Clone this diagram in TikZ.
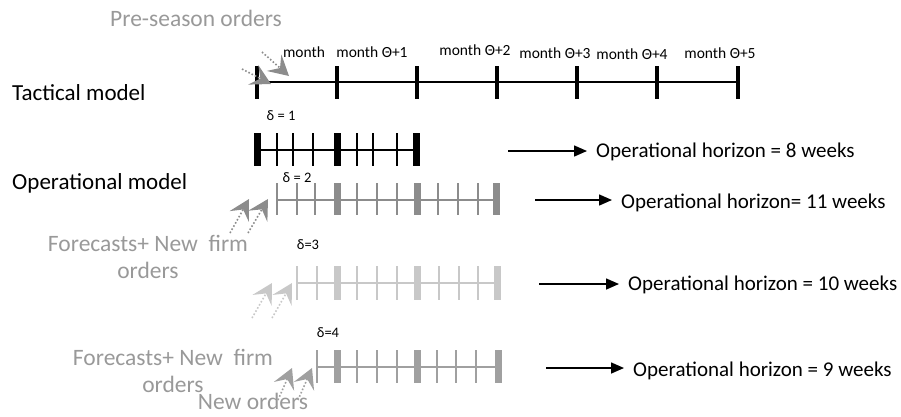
\documentclass[tikz,border=0pt]{standalone}
\usepackage{fontspec}
\setmainfont{Carlito}
\usetikzlibrary{arrows.meta}
\definecolor{ordergray}{HTML}{999999}
\definecolor{rowtwo}{HTML}{8C8C8C}
\definecolor{rowthree}{HTML}{C8C8C8}
\definecolor{rowfour}{HTML}{A0A0A0}
\tikzset{
  rowlabel/.style={anchor=west, inner sep=0pt, font=\fontsize{23}{25}\selectfont},
  graylabel/.style={inner sep=0pt, text=ordergray, align=center, font=\fontsize{23.5}{27}\selectfont},
  monthlabel/.style={inner sep=0pt, font=\fontsize{15.5}{17}\selectfont},
  deltalabel/.style={inner sep=0pt, font=\fontsize{14.5}{16}\selectfont},
  horizonlabel/.style={anchor=west, inner sep=0pt, font=\fontsize{21}{23}\selectfont},
  horizonarrow/.style={line width=1.5pt, -{Triangle[length=13pt,width=11pt]}, shorten >=9pt},
  orderarrow/.style={line width=1.6pt, dotted, -{Stealth[length=20pt,width=22pt,inset=8pt,sep=0pt]}},
}
% draws one operational timeline: colour, y, first x, last x, thin ticks, thick ticks, tick top, tick bottom
\newcommand{\opline}[8]{%
  \draw[#1, line width=2pt] (#3,#2) -- (#4,#2);
  \foreach \tx in {#5} \draw[#1, line width=1.8pt] (\tx,#7) -- (\tx,#8);
  \foreach \tx in {#6} \draw[#1, line width=7pt] (\tx,#7) -- (\tx,#8);
}
\begin{document}
\begin{tikzpicture}[x=1pt, y=-1pt]
\useasboundingbox (0,0) rectangle (901,416);

% left-hand labels
\node[graylabel] (pre) at (196,18) {Pre-season orders};
\node[rowlabel] (tact) at (12,93) {Tactical model};
\node[rowlabel] (oper) at (12,183) {Operational model};
\node[graylabel] (fc1) at (148,257) {Forecasts+ New\ \ firm\\orders};
\node[graylabel] (fc2) at (173,371) {Forecasts+ New\ \ firm\\orders};
\node[graylabel] (neword) at (253,401) {New orders};

% tactical timeline
\draw[line width=2.5pt] (257,82) -- (738,82);
\foreach \tx in {257,337,417,497,577,657,738}
  \draw[line width=4pt] (\tx,66) -- (\tx,99);
\node[monthlabel] (m0) at (304,52) {month};
\node[monthlabel] (m1) at (372,52) {month Θ+1};
\node[monthlabel] (m2) at (475,50) {month Θ+2};
\node[monthlabel] (m3) at (555,53) {month Θ+3};
\node[monthlabel] (m4) at (632,54) {month Θ+4};
\node[monthlabel] (m5) at (720,53) {month Θ+5};

% operational timelines
\opline{black}{150}{257}{416}{277,293,313,357,373,397}{257,337,416}{133}{166}
\opline{rowtwo}{200}{277}{496}{277,297,315,357,377,397,438,458,478}{337,417,496}{183}{215}
\opline{rowthree}{283}{297}{497}{297,317,357,377,397,439,459,478}{337,417,497}{266}{300}
\opline{rowfour}{367}{317}{498}{317,357,377,397,437,456,476}{337,417,498}{350}{383}

\node[deltalabel] (d1) at (281,116) {δ = 1};
\node[deltalabel] (d2) at (297,178) {δ = 2};
\node[deltalabel] (d3) at (308,245) {δ=3};
\node[deltalabel] (d4) at (328,333) {δ=4};

% order arrows
\coordinate (ta1) at (262,52);  \coordinate (tb1) at (289,76);
\coordinate (ta2) at (242,69);  \coordinate (tb2) at (271,84);
\draw[orderarrow, rowtwo] (ta1) -- (tb1);
\draw[orderarrow, rowtwo] (ta2) -- (tb2);

\coordinate (oa1) at (230,233); \coordinate (ob1) at (249,199);
\coordinate (oa2) at (248,233); \coordinate (ob2) at (268,199);
\draw[orderarrow, rowtwo] (oa1) -- (ob1);
\draw[orderarrow, rowtwo] (oa2) -- (ob2);

\coordinate (pa1) at (252,318); \coordinate (pb1) at (272,283);
\coordinate (pa2) at (272,318); \coordinate (pb2) at (292,283);
\draw[orderarrow, rowthree] (pa1) -- (pb1);
\draw[orderarrow, rowthree] (pa2) -- (pb2);

\coordinate (qa1) at (278,400); \coordinate (qb1) at (292,368);
\coordinate (qa2) at (298,400); \coordinate (qb2) at (312,368);
\draw[orderarrow, rowfour] (qa1) -- (qb1);
\draw[orderarrow, rowfour] (qa2) -- (qb2);

% operational horizons
\node[horizonlabel] (h1) at (596,152) {Operational horizon = 8 weeks};
\node[horizonlabel] (h2) at (621,203) {Operational horizon= 11 weeks};
\node[horizonlabel] (h3) at (628,285) {Operational horizon = 10 weeks};
\node[horizonlabel] (h4) at (633,371) {Operational horizon = 9 weeks};
\coordinate (s1) at (508,151);
\coordinate (s2) at (535,200);
\coordinate (s3) at (539,284);
\coordinate (s4) at (546,368);
\draw[horizonarrow] (s1) -- (s1 -| h1.west);
\draw[horizonarrow] (s2) -- (s2 -| h2.west);
\draw[horizonarrow] (s3) -- (s3 -| h3.west);
\draw[horizonarrow] (s4) -- (s4 -| h4.west);
\end{tikzpicture}
\end{document}
